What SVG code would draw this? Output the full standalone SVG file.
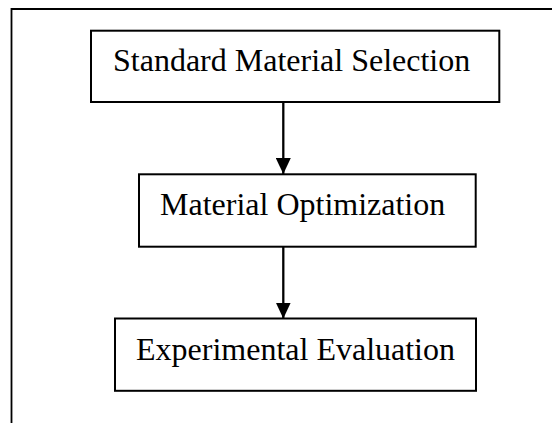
<svg xmlns="http://www.w3.org/2000/svg" width="552" height="423" viewBox="0 0 552 423">
<style>
.box{fill:#fff;stroke:#000;stroke-width:2}
.lbl{font-family:"Liberation Serif","Times New Roman",serif;font-size:32px;fill:#000}
.frame{fill:none;stroke:#000;stroke-width:1.8}
.conn{stroke:#000;stroke-width:2.3;fill:none}
</style>
<defs>
<marker id="arr" markerUnits="userSpaceOnUse" markerWidth="16" markerHeight="15" refX="16" refY="7.5" orient="auto">
<path d="M0,0 L16,7.5 L0,15 z" fill="#000"/>
</marker>
</defs>
<rect width="552" height="423" fill="#fff"/>
<path class="frame" d="M11.5,423 L11.5,9 L552,9"/>
<g id="n1">
<rect class="box" x="91" y="30.7" width="408.3" height="71.3"/>
<text class="lbl" x="113" y="71">Standard Material Selection</text>
</g>
<g id="n2">
<rect class="box" x="139" y="174.3" width="336.7" height="72.4"/>
<text class="lbl" x="160" y="215">Material Optimization</text>
</g>
<g id="n3">
<rect class="box" x="115" y="318.5" width="361" height="72.3"/>
<text class="lbl" x="136" y="360">Experimental Evaluation</text>
</g>
<g id="connectors">
<line class="conn" x1="283.3" y1="102" x2="283.3" y2="174" marker-end="url(#arr)"/>
<line class="conn" x1="283.3" y1="246.7" x2="283.3" y2="318.5" marker-end="url(#arr)"/>
</g>
</svg>
